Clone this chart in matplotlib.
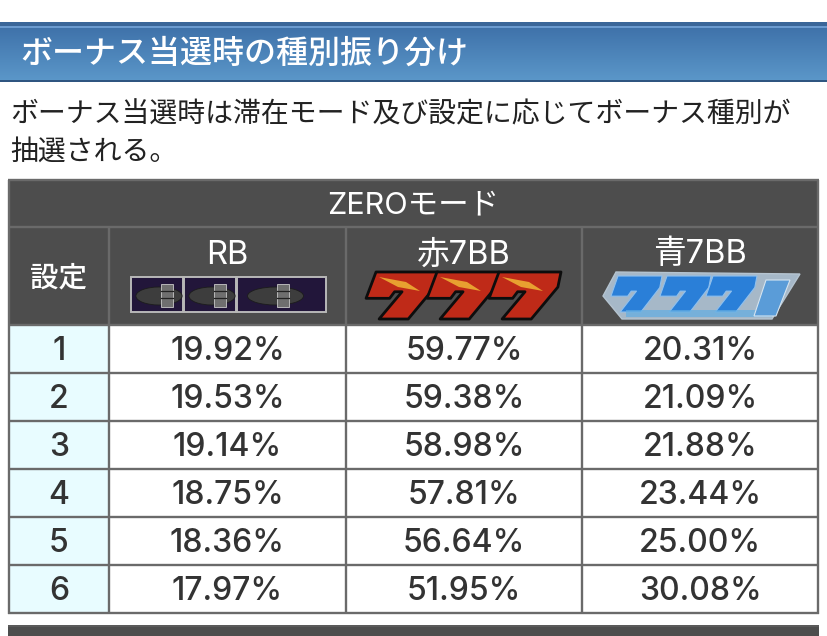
import numpy as np
import matplotlib
matplotlib.use("Agg")
import matplotlib.pyplot as plt
from matplotlib.patches import Rectangle, Polygon, Ellipse

plt.rcParams['font.family'] = ['Inter', 'Noto Sans CJK JP', 'DejaVu Sans']
CJK = ['Noto Sans CJK JP', 'DejaVu Sans']

title = "ボーナス当選時の種別振り分け"
body_lines = ["ボーナス当選時は滞在モード及び設定に応じてボーナス種別が", "抽選される。"]
mode_label = "ZEROモード"
setting_label = "設定"
columns = ["RB", "赤7BB", "青7BB"]
settings = ["1", "2", "3", "4", "5", "6"]
rb = ["19.92%", "19.53%", "19.14%", "18.75%", "18.36%", "17.97%"]
red7 = ["59.77%", "59.38%", "58.98%", "57.81%", "56.64%", "51.95%"]
blue7 = ["20.31%", "21.09%", "21.88%", "23.44%", "25.00%", "30.08%"]

fig = plt.figure(figsize=(8.28, 6.36), dpi=100)
ax = fig.add_axes([0, 0, 1, 1])
ax.set_xlim(0, 828)
ax.set_ylim(636, 0)
ax.axis("off")

GREY = "#6a6a6a"
DARK = "#4d4d4d"
INK = "#333333"

def rect(x0, y0, x1, y1, c, z=1):
    ax.add_patch(Rectangle((x0, y0), x1 - x0, y1 - y0, fc=c, ec="none", lw=0, zorder=z))

# title band
grad = np.linspace(0, 1, 64)[:, None]
c0, c1 = np.array([0x3f, 0x72, 0xaa]) / 255, np.array([0x5b, 0x97, 0xc9]) / 255
ax.imshow((c0 + (c1 - c0) * grad)[:, None, :].reshape(64, 1, 3),
          extent=(0, 828, 81, 27), aspect="auto", zorder=1, interpolation="bilinear")
ax.set_xlim(0, 828)
ax.set_ylim(636, 0)
rect(0, 22, 828, 26, "#3a6699", 2)
rect(0, 26, 828, 28, "#6b9bd0", 2)
rect(0, 79.5, 828, 81.5, "#2f5580", 2)
ax.text(20, 54, title, color="white", fontsize=23, va="center", ha="left", zorder=3,
        fontweight="medium", family=CJK)

# body
ax.text(10, 114, body_lines[0], color="#222222", fontsize=20.1, va="center", ha="left", family=CJK)
ax.text(10, 152, body_lines[1], color="#222222", fontsize=20.1, va="center", ha="left", family=CJK)

# table layout
col_x = [9, 109, 346, 582, 818.5]
row_y = [325, 373, 421, 469, 517, 565, 613]

rect(8, 178.5, 819.5, 325, DARK, 1)
rect(9, 325, 109, 613, "#e8fcff", 1)

# grid
LW = 1.7
for y in [180, 227] + row_y:
    ax.plot([8, 819.5], [y, y], color=GREY, lw=LW, zorder=4, solid_capstyle="butt")
for i, x in enumerate(col_x):
    top = 180 if i in (0, 4) else 227
    ax.plot([x, x], [top, 614], color=GREY, lw=LW, zorder=4, solid_capstyle="butt")

# header text
ax.text(413, 205.5, mode_label, color="white", fontsize=22, ha="center", va="center", zorder=5)
ax.text(59, 278, setting_label, color="white", fontsize=20.5, ha="center", va="center", zorder=5,
        fontweight="medium", family=CJK)
for i, c in enumerate(columns):
    ax.text((col_x[i + 1] + col_x[i + 2]) / 2, 255, c, color="white", fontsize=23.5,
            ha="center", va="center", zorder=5)

# body cells
for j, s in enumerate(settings):
    yc = (row_y[j] + row_y[j + 1]) / 2 + 2
    ax.text(59, yc, s, color=INK, fontsize=23, ha="center", va="center", zorder=5, fontweight="medium")
    for i, col in enumerate((rb, red7, blue7)):
        ax.text((col_x[i + 1] + col_x[i + 2]) / 2, yc, col[j], color=INK, fontsize=23,
                ha="center", va="center", zorder=5, fontweight="medium")

# bottom band
rect(8, 624.5, 819.5, 636, DARK, 1)
rect(8, 624.5, 819.5, 626.5, "#5a5a5a", 2)

# reel icons (decorative)
def seven(x, y, w, h, face, edge, lw):
    pts = [(x, y), (x + w, y), (x + w * 0.95, y + h * 0.32), (x + w * 0.52, y + h),
           (x + w * 0.05, y + h), (x + w * 0.42, y + h * 0.42), (x + w * 0.3, y + h * 0.42),
           (x + w * 0.22, y + h * 0.56), (x - w * 0.16, y + h * 0.56)]
    ax.add_patch(Polygon(pts, closed=True, fc=face, ec=edge, lw=lw, zorder=5, joinstyle="round"))

# RB: three framed tiles
for x0, x1 in ((131, 183), (184, 236), (237, 326)):
    ax.add_patch(Rectangle((x0, 277), x1 - x0, 35, fc="#22163a", ec="#b8b8b8", lw=1.4, zorder=5))
    xm = x0 + 36 if x1 - x0 < 60 else (x0 + x1) / 2 + 2
    half = 33 if x1 - x0 < 60 else 40
    ax.add_patch(Ellipse((xm - 8, 296), half * 1.4, 18, fc="#3d3d3d", ec="#1c1c1c", lw=0.6, zorder=6))
    ax.add_patch(Rectangle((xm - 6, 284), 12, 23, fc="#6f6f6f", ec="#c8c8c8", lw=0.6, zorder=7))
    ax.plot([xm - 6, xm + 6], [291, 291], color="#222222", lw=0.9, zorder=8)
    ax.plot([xm - 6, xm + 6], [298, 298], color="#222222", lw=0.9, zorder=8)

# red 777
for x0 in (376, 437, 499):
    seven(x0, 272, 62, 47, "#bf2a18", "#0d0d0d", 2.0)
    ax.add_patch(Polygon([(x0 + 3, 277), (x0 + 30, 282), (x0 + 44, 291), (x0 + 22, 287)],
                         closed=True, fc="#e8a030", ec="none", zorder=6))

# blue 777
ax.add_patch(Polygon([(616, 272), (800, 274), (772, 319), (622, 319), (603, 296)], closed=True,
                     fc="#a6b8c8", ec="#b5c4d0", lw=1, zorder=4.5))
for x0 in (618, 667, 713):
    seven(x0, 276, 44, 36, "#2a7fd8", "#8fc0ee", 0.8)
ax.add_patch(Rectangle((626, 310), 146, 7, fc="#62aee2", ec="none", zorder=6, alpha=0.7))
ax.add_patch(Polygon([(766, 280), (790, 280), (776, 316), (754, 316)], closed=True,
                     fc="#5a9cd8", ec="#d5e4f0", lw=0.8, zorder=6))

fig.savefig("out.png", dpi=100, facecolor="white")
